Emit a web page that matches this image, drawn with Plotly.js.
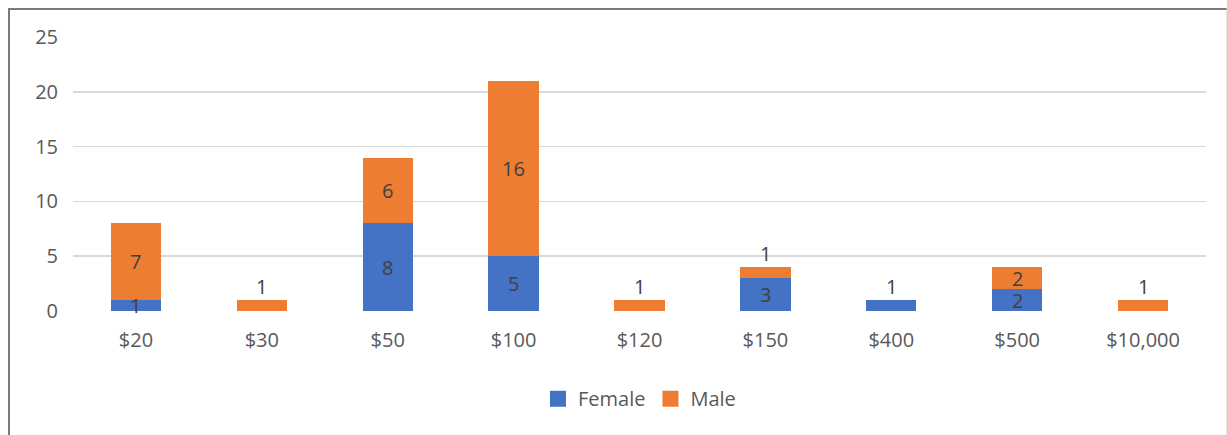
<!DOCTYPE html>
<html>
<head>
<meta charset="utf-8">
<script src="https://cdn.plot.ly/plotly-3.0.1.min.js"></script>
<style>
  html, body { margin: 0; padding: 0; background: #fff; }
  #wrap { position: relative; width: 1227px; height: 435px; }
  #chart { width: 1227px; height: 435px; }
  #frame {
    position: absolute; left: 8px; top: 8px; right: 0; bottom: -4px;
    border-top: 2px solid #7a7a7a; border-left: 2px solid #7a7a7a;
    border-right: 1px solid #e4e4e4;
    pointer-events: none;
  }
</style>
</head>
<body>
<div id="wrap">
  <div id="chart"></div>
  <div id="frame"></div>
</div>
<script>
// Donation amounts and counts of donors by gender
const categories = ['$20', '$30', '$50', '$100', '$120', '$150', '$400', '$500', '$10,000'];
const female = [1, 0, 8, 5, 0, 3, 1, 2, 0];
const male = [7, 1, 6, 16, 1, 1, 0, 2, 1];
const yTicks = [0, 5, 10, 15, 20, 25];

const BLUE = '#4472C4';
const ORANGE = '#ED7D31';
const FONT = '"Open Sans", "Noto Sans", sans-serif';
const TEXT = '#595959';
const LABEL = '#404040';
const SIZE = 20;

const barTrace = (name, vals, color) => ({
  type: 'bar', name: name, x: categories, y: vals,
  marker: { color: color }, showlegend: false, hoverinfo: 'x+y+name'
});

// Legend entries drawn as square markers
const legendTrace = (name, color) => ({
  type: 'scatter', mode: 'markers', name: name, x: [null], y: [null],
  marker: { symbol: 'square', size: 16, color: color }
});

// Value labels: centred in each segment, or just above a thin top segment
const annotations = [];
categories.forEach((c, i) => {
  const segs = [[female[i], 0], [male[i], female[i]]];
  segs.forEach(([v, base], k) => {
    if (v <= 0) return;
    const isTop = k === 1 || male[i] === 0;
    const thin = v < 2 && isTop;
    annotations.push({
      x: c, y: thin ? base + v : base + v / 2, xref: 'x', yref: 'y',
      text: String(v), showarrow: false,
      yshift: thin ? 14 : 0,
      font: { family: FONT, size: SIZE, color: LABEL }
    });
  });
});

const layout = {
  width: 1227, height: 435,
  margin: { l: 73, r: 21, t: 37, b: 124 },
  paper_bgcolor: '#ffffff', plot_bgcolor: '#ffffff',
  barmode: 'stack', bargap: 0.6,
  font: { family: FONT, size: SIZE, color: TEXT },
  xaxis: {
    type: 'category', categoryorder: 'array', categoryarray: categories,
    showgrid: false, showline: false, zeroline: false, ticks: '',
    ticklabelstandoff: 15,
    tickfont: { family: FONT, size: SIZE, color: TEXT }
  },
  yaxis: {
    range: [0, 25], tickvals: yTicks, ticktext: yTicks.map(String),
    showgrid: true, gridcolor: '#d9d9d9', gridwidth: 1.5,
    zeroline: false, showline: false, ticks: '',
    ticklabelstandoff: 14,
    tickfont: { family: FONT, size: SIZE, color: TEXT }
  },
  showlegend: true,
  legend: {
    orientation: 'h', traceorder: 'normal',
    x: 0.5, xanchor: 'center', y: -0.32, yanchor: 'middle',
    font: { family: FONT, size: SIZE, color: TEXT },
    itemwidth: 30, tracegroupgap: 0
  },
  annotations: annotations
};

Plotly.newPlot('chart', [
  barTrace('Female', female, BLUE),
  barTrace('Male', male, ORANGE),
  legendTrace('Female', BLUE),
  legendTrace('Male', ORANGE)
], layout, { displayModeBar: false, staticPlot: true });
</script>
</body>
</html>
